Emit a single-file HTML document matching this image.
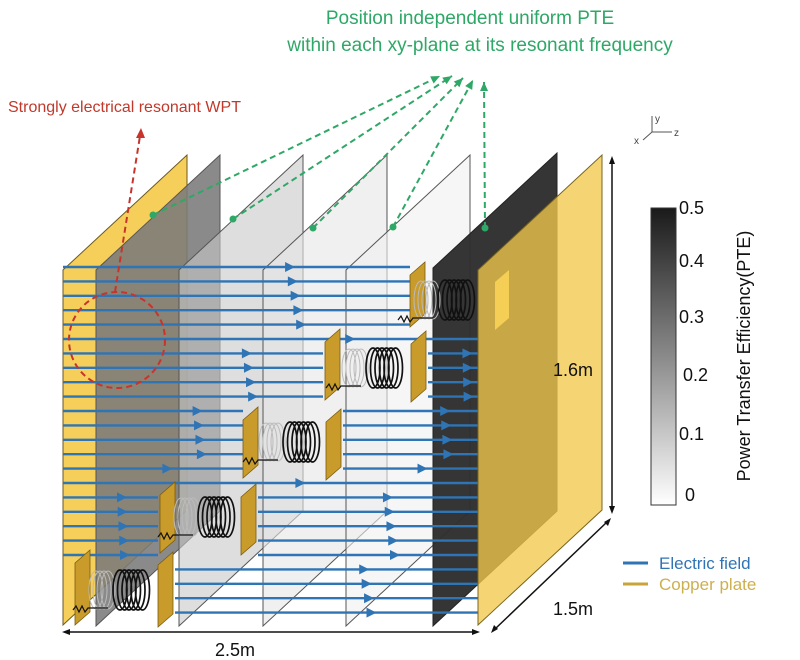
<!DOCTYPE html>
<html><head><meta charset="utf-8"><style>
html,body{margin:0;padding:0;background:#fff;width:800px;height:660px;overflow:hidden}
svg{display:block;font-family:"Liberation Sans",Arial,sans-serif}
</style></head><body>
<svg id="s" width="800" height="660" viewBox="0 0 800 660" xmlns="http://www.w3.org/2000/svg">
<defs>
<linearGradient id="cb" x1="0" y1="0" x2="0" y2="1">
<stop offset="0" stop-color="#1a1a1a"/><stop offset="0.5" stop-color="#8a8a8a"/><stop offset="1" stop-color="#ffffff"/>
</linearGradient>
</defs>
<text x="470" y="24" text-anchor="middle" font-size="19" fill="#2ea866">Position independent uniform PTE</text>
<text x="480" y="51" text-anchor="middle" font-size="19" fill="#2ea866">within each xy-plane at its resonant frequency</text>
<text x="8" y="112" font-size="16" fill="#c0392b">Strongly electrical resonant WPT</text>
<g stroke="#555" stroke-width="1" fill="none">
<line x1="652" y1="132" x2="652" y2="116"/><line x1="652" y1="132" x2="672" y2="132"/><line x1="652" y1="132" x2="643" y2="140"/>
</g>
<text x="655" y="122" font-size="10" fill="#444">y</text><text x="674" y="136" font-size="10" fill="#444">z</text><text x="634" y="144" font-size="10" fill="#444">x</text>
<g id="planes"></g>
<g id="field"></g>
<g id="front"></g>
<rect x="651" y="208" width="25" height="297" fill="url(#cb)" stroke="#333" stroke-width="1"/>
<g font-size="18" fill="#111">
<text x="679" y="214">0.5</text><text x="679" y="267">0.4</text><text x="679" y="323">0.3</text><text x="683" y="381">0.2</text><text x="679" y="440">0.1</text><text x="685" y="501">0</text>
</g>
<text transform="translate(750,356) rotate(-90)" text-anchor="middle" font-size="18" fill="#111">Power Transfer Efficiency(PTE)</text>
<line x1="623" y1="563" x2="648" y2="563" stroke="#2f74b5" stroke-width="3"/>
<text x="659" y="569" font-size="17" fill="#2f74b5">Electric field</text>
<line x1="623" y1="584" x2="648" y2="584" stroke="#c9a43a" stroke-width="3"/>
<text x="659" y="590" font-size="17" fill="#cdb04e">Copper plate</text>
<g stroke="#111" stroke-width="1.5" fill="#111">
<line x1="612" y1="160" x2="612" y2="510"/>
<path d="M612,156 l-3,8 h6z M612,514 l-3,-8 h6z" stroke="none"/>
<line x1="66" y1="632" x2="476" y2="632"/>
<path d="M62,632 l8,-3 v6z M480,632 l-8,-3 v6z" stroke="none"/>
<line x1="495" y1="629" x2="607" y2="522"/>
<path d="M491,633 l3,-8 l4,4z M611,518 l-3,8 l-4,-4z" stroke="none"/>
</g>
<text x="553" y="376" font-size="18" fill="#111">1.6m</text>
<text x="553" y="615" font-size="18" fill="#111">1.5m</text>
<text x="215" y="656" font-size="18" fill="#111">2.5m</text>
<g id="ann"></g>
</svg>
<script>
const NS="http://www.w3.org/2000/svg";
function el(p,t,a){const e=document.createElementNS(NS,t);for(const k in a)e.setAttribute(k,a[k]);document.getElementById(p).appendChild(e);return e;}
const dx=124,dy=-115;
function plane(g,x,yt,yb,fill,op,stroke){el(g,"polygon",{points:`${x},${yt} ${x+dx},${yt+dy} ${x+dx},${yb+dy} ${x},${yb}`,fill:fill,"fill-opacity":op,stroke:stroke||"#555","stroke-width":1});}
plane("planes",63,270,625,"#f5cf5a",1,"#6b5a20");
plane("planes",96,270,626,"#7a7a7a",0.88);
plane("planes",179,270,626,"#c8c8c8",0.6);
plane("planes",263,270,626,"#e6e6e6",0.6);
plane("planes",346,270,626,"#f0f0f0",0.6);
plane("planes",433,268,626,"#2e2e2e",0.97,"#222");
const bands=[[267,335,[[63,410]],[]],[340,402,[[63,323]],[[428,478]]],[408,482,[[63,243]],[[343,478]]],[488,557,[[63,158]],[[258,478]]],[562,624,[],[[175,478]]]];
for(let y=267;y<=622;y+=14.4){
 let b=bands.find(b=>y>=b[0]&&y<=b[1]); if(!b) b=[0,0,[[63,478]],[]];
 [...b[2],...b[3]].forEach(s=>{
  el("field","line",{x1:s[0],y1:y,x2:s[1],y2:y,stroke:"#2f74b5","stroke-width":2.4});
  const ax=s[0]+(s[1]-s[0])*(0.55+((y*7)%20)/100);
  el("field","path",{d:`M${ax},${y-5} l10,5 l-10,5z`,fill:"#2f74b5"});
 });
}
function sp(x,yt,yb){el("front","polygon",{points:`${x},${yt} ${x+15},${yt-13} ${x+15},${yb-13} ${x},${yb}`,fill:"#c99b2a",stroke:"#7a5c10","stroke-width":0.8});}
function coil(cx,cy){
 for(let i=0;i<4;i++)el("front","ellipse",{cx:cx-24+i*4,cy:cy,rx:7,ry:19,fill:"none",stroke:"#bbb","stroke-width":1});
 for(let i=0;i<6;i++)el("front","ellipse",{cx:cx+i*4.5,cy:cy,rx:7,ry:20,fill:"none",stroke:"#111","stroke-width":1.7});
 el("front","path",{d:`M${cx-47},${cy+20} l3,-4 l3,6 l3,-6 l3,6 l3,-4 h20`,fill:"none",stroke:"#111","stroke-width":1.2});
}
const C=[[410,275,327,445,300,478],[325,342,400,373,368,413],[243,420,478,290,442,328],[160,495,553,205,517,243],[75,563,625,120,590,160]];
C.forEach((c,i)=>{sp(c[0],c[1],c[2]);coil(c[3],c[4]); if(i>0) sp(c[5]-2,c[1]+2,c[2]+2);});
plane("front",478,270,625,"#f2c94c",0.78,"#7a6420");
el("front","polygon",{points:"495,282 509,270 509,318 495,330",fill:"#f5cf55",stroke:"none"});
const G="#2ea866";
[[153,215,440,76],[233,219,452,76],[313,228,463,78],[393,227,473,80],[485,228,484,82]].forEach(a=>{
 el("ann","line",{x1:a[0],y1:a[1],x2:a[2],y2:a[3],stroke:G,"stroke-width":2,"stroke-dasharray":"6,4"});
 el("ann","circle",{cx:a[0],cy:a[1],r:3.5,fill:G});
 const ang=Math.atan2(a[3]-a[1],a[2]-a[0])*180/Math.PI;
 el("ann","path",{d:"M0,0 l-9,-4 v8z",fill:G,transform:`translate(${a[2]},${a[3]}) rotate(${ang})`});
});
const R="#c8342b";
el("ann","circle",{cx:117,cy:340,r:48,fill:"none",stroke:R,"stroke-width":2,"stroke-dasharray":"6,4"});
el("ann","line",{x1:115,y1:292,x2:140,y2:136,stroke:R,"stroke-width":2,"stroke-dasharray":"6,4"});
el("ann","path",{d:"M141,128 l-5,10 h9z",fill:R});
</script>
</body></html>
